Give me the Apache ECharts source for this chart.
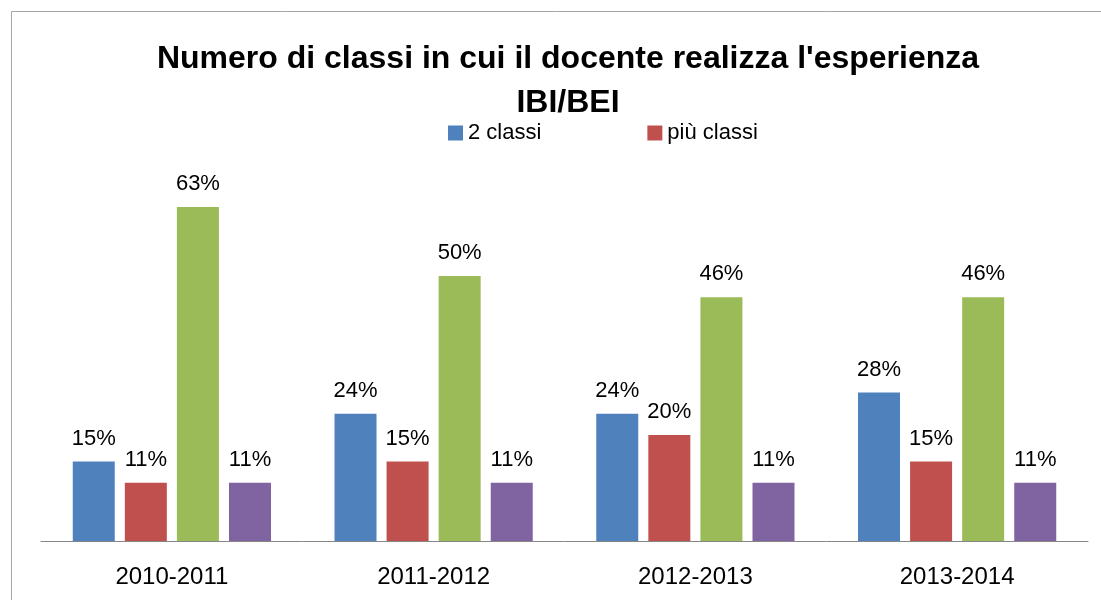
<!DOCTYPE html>
<html>
<head>
<meta charset="utf-8">
<script src="https://cdn.jsdelivr.net/npm/echarts@6/dist/echarts.min.js"></script>
<style>
  html, body { margin: 0; padding: 0; background: #fff; }
  #chart { width: 1101px; height: 600px; }
</style>
</head>
<body>
<div id="chart"></div>
<script>
// anni scolastici
const categories = ["2010-2011", "2011-2012", "2012-2013", "2013-2014"];
// percentuali per serie
const dueClassi = [15, 24, 24, 28];
const piuClassi = [11, 15, 20, 15];
const serie3 = [63, 50, 46, 46];
const serie4 = [11, 11, 11, 11];
const legendNames = ["2 classi", "più classi"];

const font = "'Liberation Sans', Arial, sans-serif";
const chart = echarts.init(document.getElementById("chart"));

function barSeries(name, data, color) {
  return {
    name: name,
    type: "bar",
    data: data,
    barWidth: 42,
    barGap: "24%",
    itemStyle: { color: color },
    label: {
      show: true,
      position: "top",
      distance: 12,
      formatter: "{c}%",
      color: "#000",
      fontSize: 22,
      fontFamily: font
    }
  };
}

const option = {
  animation: false,
  title: {
    text: "Numero di classi in cui il docente realizza l'esperienza\nIBI/BEI",
    left: 563,
    textAlign: "center",
    top: 32,
    textStyle: {
      fontSize: 32,
      fontWeight: "bold",
      fontFamily: font,
      color: "#000",
      lineHeight: 44
    }
  },
  legend: {
    data: legendNames,
    left: 443,
    top: 117,
    itemWidth: 15,
    itemHeight: 15,
    itemGap: 106,
    icon: "rect",
    textStyle: { fontSize: 22, fontFamily: font, color: "#000" }
  },
  grid: { left: 41, right: 13, top: 170, bottom: 59 },
  xAxis: {
    type: "category",
    data: categories,
    axisLine: { lineStyle: { color: "#868686", width: 1 } },
    axisTick: { show: false },
    axisLabel: { margin: 24, fontSize: 24, fontFamily: font, color: "#000" }
  },
  yAxis: {
    type: "value",
    min: 0,
    max: 70,
    show: false
  },
  graphic: [{
    type: "rect",
    shape: { x: 11.5, y: 11.5, width: 1200, height: 700 },
    style: { fill: "none", stroke: "#a6a6a6", lineWidth: 1 }
  }],
  series: [
    barSeries("2 classi", dueClassi, "#4F81BD"),
    barSeries("più classi", piuClassi, "#C0504D"),
    barSeries("3 classi", serie3, "#9BBB59"),
    barSeries("4 classi", serie4, "#8064A2")
  ]
};
chart.setOption(option);
</script>
</body>
</html>
